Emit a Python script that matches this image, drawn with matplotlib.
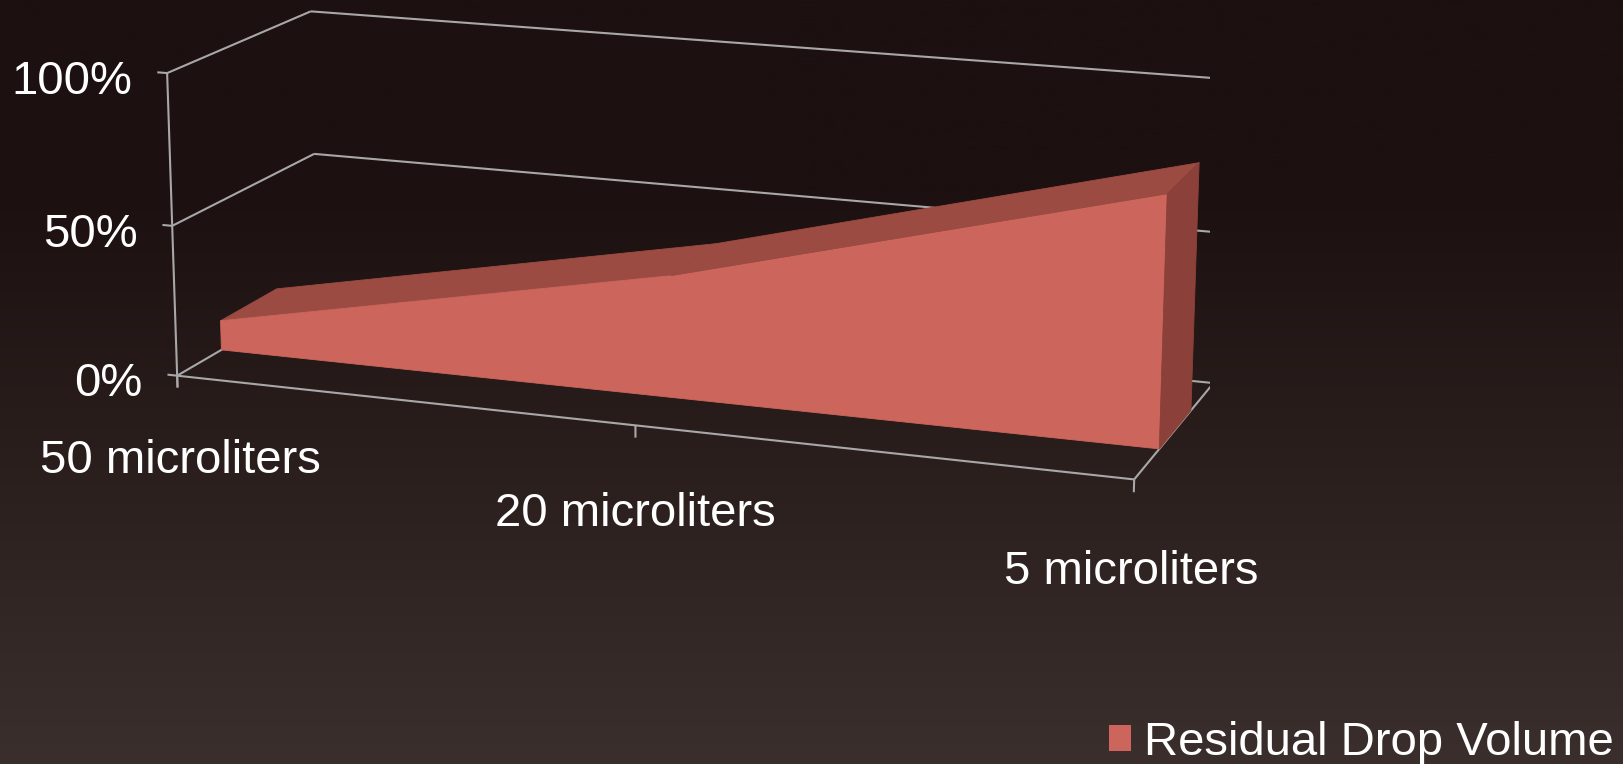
import numpy as np
import matplotlib
matplotlib.use("Agg")
import matplotlib.pyplot as plt
from matplotlib.patches import Patch
from mpl_toolkits.mplot3d.art3d import Poly3DCollection

# ---------------- data ----------------
categories = ["50 microliters", "20 microliters", "5 microliters"]
residual_drop_volume = [0.10, 0.40, 0.80]
series_name = "Residual Drop Volume"
ytick_values = [0.0, 0.5, 1.0]
ytick_labels = ["0%", "50%", "100%"]

# ---------------- style ----------------
W, H = 1623, 764
FACE_FRONT = "#CC665C"
FACE_TOP = "#9B4B42"
FACE_SIDE = "#8B4139"
GRID = "#A8A8A8"
TEXT = "white"
FS = 34
DEPTH0, DEPTH1 = 0.30, 0.70
# camera (elev, azim, roll, focal length, box aspect)
VIEW = dict(elev=14.408, azim=-70.116, roll=-0.033)
FOCAL = float(np.exp(-0.365))
BOX = (float(np.exp(1.153)), float(np.exp(0.062)), 1.0)
plt.rcParams["font.family"] = ["Liberation Sans", "DejaVu Sans"]

fig = plt.figure(figsize=(W / 100, H / 100), dpi=100)

# background gradient
bg = fig.add_axes([0, 0, 1, 1], zorder=-10)
top = np.array([28, 16, 16]) / 255
bot = np.array([59, 47, 45]) / 255
yy = np.linspace(0, 1, 256)[:, None]
t = np.clip((yy - 0.25) / 0.75, 0, 1)
grad = top + (bot - top) * t
bg.imshow(grad[:, None, :], aspect="auto", extent=[0, 1, 0, 1])
bg.set_axis_off()

# 3D axes
n = len(categories)
xmax = n - 1
ax = fig.add_axes([0, 0, 1, 1], projection="3d", computed_zorder=False)
ax.set_facecolor((0, 0, 0, 0))
ax.set_xlim(0, xmax)
ax.set_ylim(0, 1)
ax.set_zlim(0, 1)
ax.set_xticks([])
ax.set_yticks([])
ax.set_zticks([])
for axis in (ax.xaxis, ax.yaxis, ax.zaxis):
    axis.label.set_visible(False)
    axis.offsetText.set_visible(False)
    axis.set_visible(False)
ax.title.set_visible(False)
ax.set_axis_off()
ax.view_init(**VIEW)
ax.set_proj_type("persp", focal_length=FOCAL)
ax.set_box_aspect(BOX)

# layout anchors of the chart frame (world corner -> image pixel)
frame_world = np.array([[0, 0, 0], [0, 0, .5], [0, 0, 1], [0, 1, 1], [0, 1, .5],
                        [2, 1, 1], [2, 1, .5], [2, 1, 0], [2, 0, 0], [1, 0, 0]], float)
frame_img = np.array([[178, 376], [172, 226], [166, 73], [311, 11], [314, 154],
                      [1225, 79], [1218, 233], [1213, 383], [1134, 479], [636, 425]], float)
frame_target = np.c_[frame_img[:, 0], H - frame_img[:, 1]]


def project(P):
    M = ax.get_proj()
    v = np.c_[P, np.ones(len(P))] @ M.T
    return v[:, :2] / v[:, 3:4]


# place the axes so the projected frame lands on the layout anchors
fig.canvas.draw()
pix = ax.transData.transform(project(frame_world))
pc = pix - pix.mean(0)
qc = frame_target - frame_target.mean(0)
s = (pc * qc).sum() / (pc * pc).sum()
tr = frame_target.mean(0) - s * pix.mean(0)
bb = ax.get_position().transformed(fig.transFigure)
ax.set_position([(s * bb.x0 + tr[0]) / W, (s * bb.y0 + tr[1]) / H,
                 s * bb.width / W, s * bb.height / H])

lw = 1.5


def seg(P, Q, z=1):
    ax.plot([P[0], Q[0]], [P[1], Q[1]], [P[2], Q[2]], color=GRID, lw=lw,
            zorder=z, solid_capstyle="butt")


# walls / floor gridlines
for zv in ytick_values:
    seg((0, 0, zv), (0, 1, zv))
    seg((0, 1, zv), (xmax, 1, zv))
seg((0, 0, 0), (xmax, 0, 0), 2)
seg((xmax, 0, 0), (xmax, 1, 0), 2)
seg((0, 0, -0.04), (0, 0, 1), 2)
for zv in ytick_values:
    seg((0, 0, zv), (-0.022, 0, zv), 2)
for i in range(n):
    seg((i, 0, 0), (i, 0, -0.04), 2)

# area prism
xs = np.arange(n)
v = residual_drop_volume
faces, cols = [], []
front = [(0, DEPTH0, 0), (xmax, DEPTH0, 0)] + [(xs[i], DEPTH0, v[i]) for i in range(n - 1, -1, -1)]
faces.append(front); cols.append(FACE_FRONT)
for i in range(n - 1):
    faces.append([(xs[i], DEPTH0, v[i]), (xs[i + 1], DEPTH0, v[i + 1]),
                  (xs[i + 1], DEPTH1, v[i + 1]), (xs[i], DEPTH1, v[i])])
    cols.append(FACE_TOP)
faces.append([(xmax, DEPTH0, 0), (xmax, DEPTH1, 0), (xmax, DEPTH1, v[-1]), (xmax, DEPTH0, v[-1])])
cols.append(FACE_SIDE)
pc3 = Poly3DCollection(faces, facecolors=cols, edgecolors=cols, linewidths=0.6, zorder=3)
ax.add_collection3d(pc3)

# tick labels
for zv, lab in zip(ytick_values, ytick_labels):
    ax.text(-0.08, 0, zv - 0.04, lab, ha="right", va="center", color=TEXT, fontsize=FS, zorder=5)
for i, lab in enumerate(categories):
    ax.text(i, 0, -0.29, lab, ha="center", va="center", color=TEXT, fontsize=FS, zorder=5)

# legend
fig.legend(handles=[Patch(facecolor=FACE_FRONT, edgecolor="none")], labels=[series_name],
           loc="center left", bbox_to_anchor=(1109 / W, 1 - 743 / H), frameon=False,
           fontsize=FS, handlelength=0.46, handleheight=0.46, handletextpad=0.28,
           borderpad=0, borderaxespad=0, labelcolor=TEXT)

fig.savefig("out.png", dpi=100)
